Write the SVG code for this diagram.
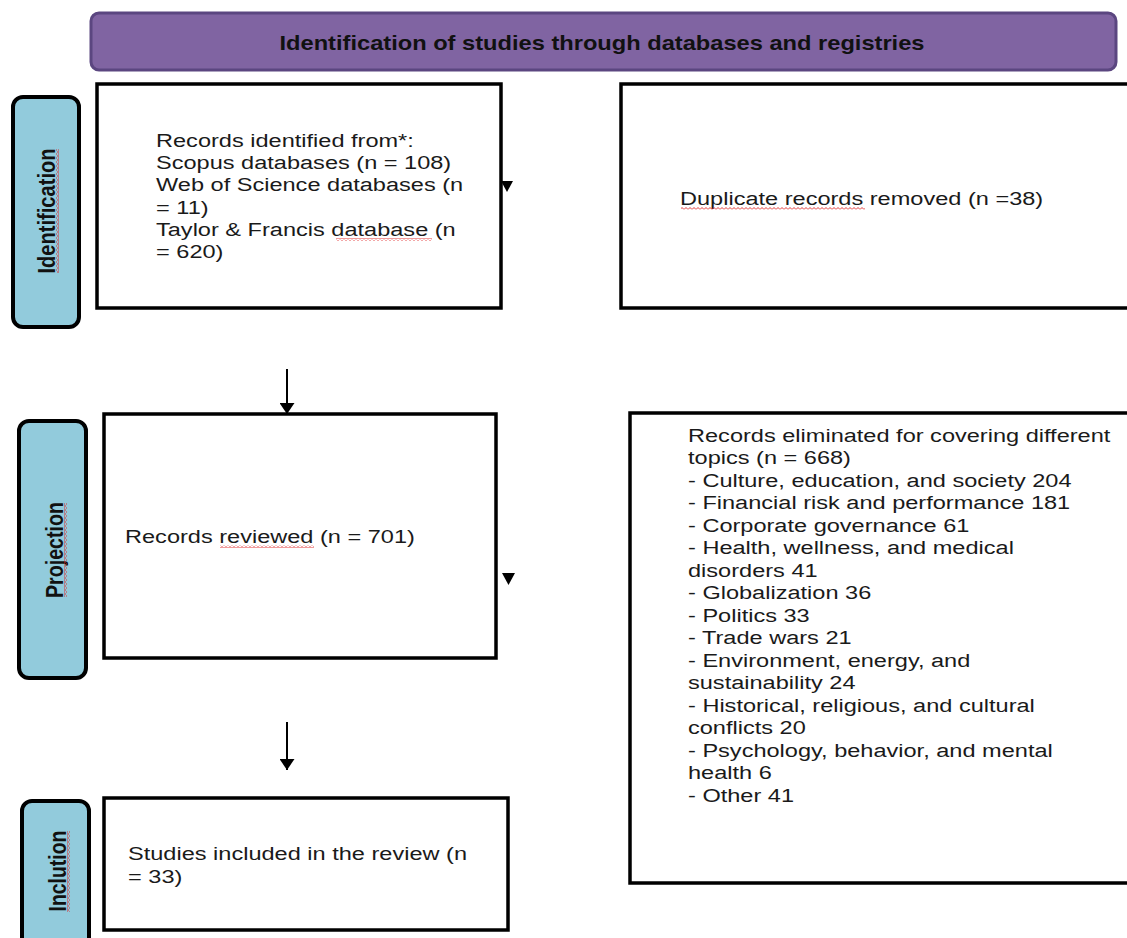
<svg xmlns="http://www.w3.org/2000/svg" width="1127" height="938" viewBox="0 0 1127 938">
<style>
.box{fill:#fff;stroke:#000;stroke-width:3.5}
.side{fill:#92CBDC;stroke:#000;stroke-width:4}
.body{font-family:"Liberation Sans",Arial,sans-serif;font-size:19px;fill:#1a1a1a}
.sidet{font-family:"Liberation Sans",Arial,sans-serif;font-size:20px;font-weight:bold;fill:#111}
.title{font-family:"Liberation Sans",Arial,sans-serif;font-size:21px;font-weight:bold;fill:#111}
.conn{stroke:#000;stroke-width:2;fill:none}
.sq{fill:url(#sqh)}
.sqv{fill:url(#sqv)}
</style>
<defs>
<marker id="ah" viewBox="0 0 11 15" refX="11" refY="7.5" markerWidth="11" markerHeight="15" markerUnits="userSpaceOnUse" orient="auto">
<path d="M0 0 L11 7.5 L0 15 z" fill="#000"/>
</marker>
<pattern id="sqh" width="4" height="3" patternUnits="userSpaceOnUse">
<path d="M0 2.5 L2 0.5 L4 2.5" stroke="#e02020" stroke-width="0.9" fill="none"/>
</pattern>
<pattern id="sqv" width="3" height="4" patternUnits="userSpaceOnUse">
<path d="M0.5 0 L2.5 2 L0.5 4" stroke="#e02020" stroke-width="0.9" fill="none"/>
</pattern>
</defs>

<g id="title">
<rect x="91" y="13" width="1025" height="57" rx="8" fill="#8064A2" stroke="#5B4680" stroke-width="3"/>
<text class="title" x="602" y="50" text-anchor="middle" textLength="645" lengthAdjust="spacingAndGlyphs">Identification of studies through databases and registries</text>
</g>

<g id="side-identification">
<rect class="side" x="13" y="97" width="66" height="230" rx="10"/>
<text class="sidet" transform="translate(55,211) scale(1.24,1) rotate(-90)" text-anchor="middle" textLength="125" lengthAdjust="spacingAndGlyphs">Identification</text>
<rect class="sqv" x="56" y="149" width="3" height="124"/>
</g>

<g id="side-projection">
<rect class="side" x="19" y="421" width="67" height="257" rx="10"/>
<text class="sidet" transform="translate(63,550) scale(1.24,1) rotate(-90)" text-anchor="middle" textLength="96" lengthAdjust="spacingAndGlyphs">Projection</text>
<rect class="sqv" x="64" y="503" width="3" height="94"/>
</g>

<g id="side-inclusion">
<rect class="side" x="22" y="801" width="67" height="150" rx="10"/>
<text class="sidet" transform="translate(66,871) scale(1.24,1) rotate(-90)" text-anchor="middle" textLength="81" lengthAdjust="spacingAndGlyphs">Inclution</text>
<rect class="sqv" x="67" y="831" width="3" height="81"/>
</g>

<g id="records-identified">
<rect class="box" x="97" y="84" width="404" height="224"/>
<g transform="translate(156,0) scale(1.24,1)">
<text class="body">
<tspan x="0" y="147">Records identified from*:</tspan>
<tspan x="0" y="169">Scopus databases (n = 108)</tspan>
<tspan x="0" y="191">Web of Science databases (n</tspan>
<tspan x="0" y="214">= 11)</tspan>
<tspan x="0" y="236">Taylor &amp; Francis database (n</tspan>
<tspan x="0" y="258">= 620)</tspan>
</text>
</g>
<rect class="sq" x="336" y="238" width="96" height="3"/>
</g>

<g id="duplicates">
<rect class="box" x="621" y="84" width="520" height="224"/>
<g transform="translate(680,0) scale(1.24,1)">
<text class="body" x="0" y="205">Duplicate records removed (n =38)</text>
</g>
<rect class="sq" x="681" y="207" width="184" height="3"/>
</g>

<g id="records-reviewed">
<rect class="box" x="104" y="414" width="392" height="244"/>
<g transform="translate(125,0) scale(1.24,1)">
<text class="body" x="0" y="543">Records reviewed (n = 701)</text>
</g>
<rect class="sq" x="220" y="545" width="94" height="3"/>
</g>

<g id="records-eliminated">
<rect class="box" x="630" y="413" width="520" height="470"/>
<g transform="translate(688,0) scale(1.24,1)">
<text class="body">
<tspan x="0" y="442">Records eliminated for covering different</tspan>
<tspan x="0" y="464.5">topics (n = 668)</tspan>
<tspan x="0" y="487">- Culture, education, and society 204</tspan>
<tspan x="0" y="509.5">- Financial risk and performance 181</tspan>
<tspan x="0" y="532">- Corporate governance 61</tspan>
<tspan x="0" y="554.5">- Health, wellness, and medical</tspan>
<tspan x="0" y="577">disorders 41</tspan>
<tspan x="0" y="599.5">- Globalization 36</tspan>
<tspan x="0" y="622">- Politics 33</tspan>
<tspan x="0" y="644.5">- Trade wars 21</tspan>
<tspan x="0" y="667">- Environment, energy, and</tspan>
<tspan x="0" y="689.5">sustainability 24</tspan>
<tspan x="0" y="712">- Historical, religious, and cultural</tspan>
<tspan x="0" y="734.5">conflicts 20</tspan>
<tspan x="0" y="757">- Psychology, behavior, and mental</tspan>
<tspan x="0" y="779.5">health 6</tspan>
<tspan x="0" y="802">- Other 41</tspan>
</text>
</g>
</g>

<g id="studies-included">
<rect class="box" x="104" y="798" width="404" height="132"/>
<g transform="translate(128,0) scale(1.24,1)">
<text class="body">
<tspan x="0" y="860">Studies included in the review (n</tspan>
<tspan x="0" y="883">= 33)</tspan>
</text>
</g>
</g>

<g id="connectors">
<line class="conn" x1="287" y1="369" x2="287" y2="414" marker-end="url(#ah)"/>
<line class="conn" x1="287" y1="722" x2="287" y2="770" marker-end="url(#ah)"/>
<polygon points="501,181 513,181 507,192" fill="#000"/>
<polygon points="502,573 515,573 508.5,585" fill="#000"/>
</g>
</svg>
